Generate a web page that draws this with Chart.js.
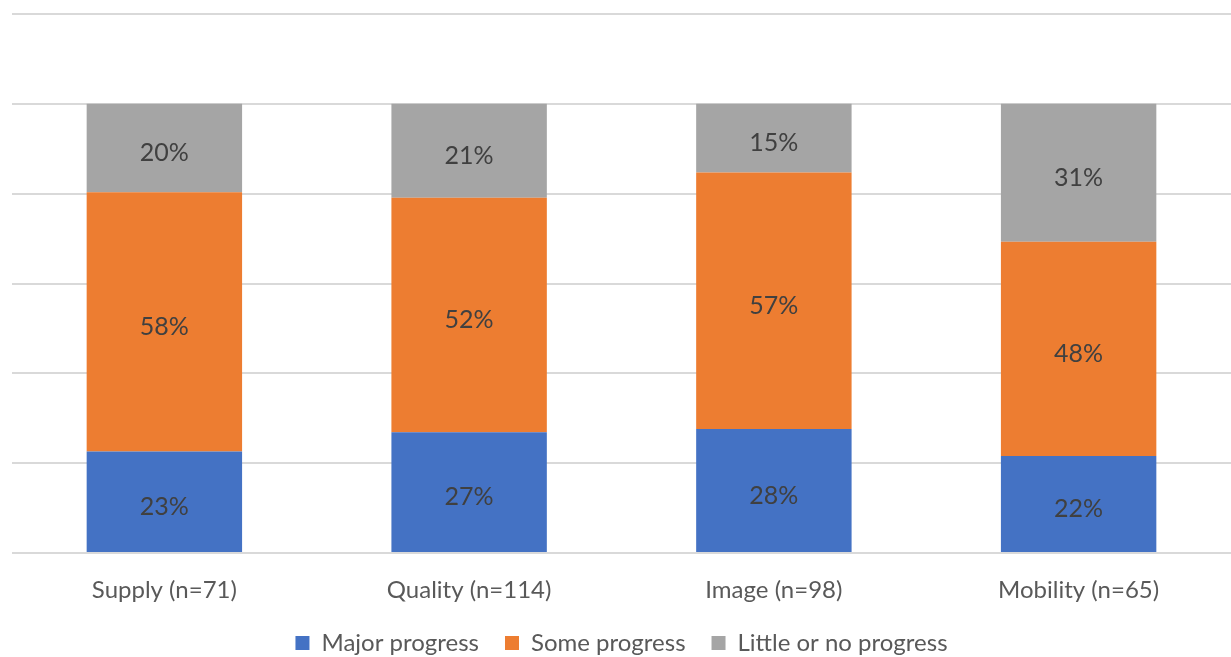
<!DOCTYPE html>
<html>
<head>
<meta charset="utf-8">
<script src="https://cdn.jsdelivr.net/npm/chart.js@4.4.1/dist/chart.umd.min.js"></script>
<style>
  html, body { margin: 0; padding: 0; background: #fff; overflow: hidden; }
  #wrap { width: 1231px; height: 657px; overflow: hidden; }
</style>
</head>
<body>
<div id="wrap"><canvas id="grafica" width="1231" height="657"></canvas></div>
<script>
const categorias = ['Supply (n=71)', 'Quality (n=114)', 'Image (n=98)', 'Mobility (n=65)'];
const major = [22.6, 26.9, 27.6, 21.6];
const some = [57.7, 52.2, 57.1, 47.7];
const little = [19.7, 20.9, 15.3, 30.7];
const etiquetasMajor = ['23%', '27%', '28%', '22%'];
const etiquetasSome = ['58%', '52%', '57%', '48%'];
const etiquetasLittle = ['20%', '21%', '15%', '31%'];
const yTicks = [0, 20, 40, 60, 80, 100, 120];

const fuente = 'Lato, "Open Sans", sans-serif';

// dibuja los porcentajes dentro de cada segmento
const etiquetasPlugin = {
    id: 'etiquetas',
    afterDatasetsDraw(chart) {
        const ctx = chart.ctx;
        ctx.save();
        ctx.font = '25px ' + fuente;
        ctx.fillStyle = '#404040';
        ctx.textAlign = 'center';
        ctx.textBaseline = 'middle';
        chart.data.datasets.forEach((ds, i) => {
            chart.getDatasetMeta(i).data.forEach((bar, j) => {
                const y = (bar.y + bar.base) / 2 + 5;
                ctx.fillText(ds.etiquetas[j], bar.x, y);
            });
        });
        ctx.restore();
    }
};

new Chart(document.getElementById('grafica').getContext('2d'), {
    type: 'bar',
    data: {
        labels: categorias,
        datasets: [
            { label: 'Major progress', data: major, etiquetas: etiquetasMajor, backgroundColor: '#4472c4' },
            { label: 'Some progress', data: some, etiquetas: etiquetasSome, backgroundColor: '#ed7d31' },
            { label: 'Little or no progress', data: little, etiquetas: etiquetasLittle, backgroundColor: '#a5a5a5' }
        ]
    },
    options: {
        responsive: false,
        animation: false,
        layout: { padding: { left: 12, right: 0, top: 14, bottom: 0 } },
        datasets: { bar: { categoryPercentage: 1, barPercentage: 0.51 } },
        scales: {
            x: {
                stacked: true,
                grid: { display: false, drawTicks: false },
                border: { display: false },
                ticks: { color: '#595959', font: { family: fuente, size: 24 }, padding: 23 },
                afterFit: axis => { axis.height = 52; }
            },
            y: {
                stacked: true,
                min: 0,
                max: 120,
                afterBuildTicks: axis => { axis.ticks = yTicks.map(v => ({ value: v })); },
                grid: { color: '#d9d9d9', lineWidth: 2, drawTicks: false },
                border: { display: false },
                ticks: { display: false }
            }
        },
        plugins: {
            legend: {
                position: 'bottom',
                maxHeight: 52,
                labels: {
                    color: '#595959',
                    font: { family: fuente, size: 24 },
                    boxWidth: 14,
                    boxHeight: 14,
                    padding: 26
                }
            },
            tooltip: { enabled: false }
        }
    },
    plugins: [etiquetasPlugin]
});
</script>
</body>
</html>
